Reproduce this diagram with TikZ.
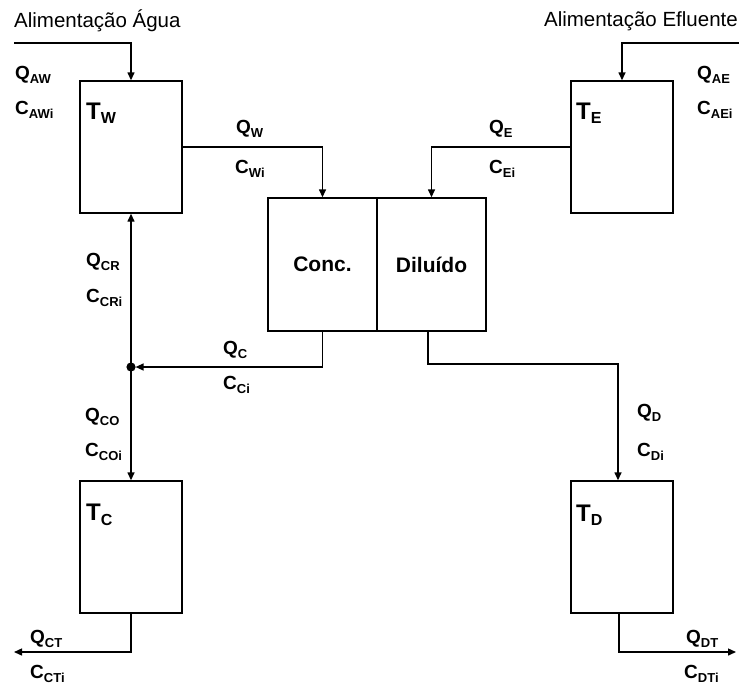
\documentclass[tikz,border=0pt]{standalone}
\usepackage{fontspec}
\setmainfont{Liberation Sans}
\usepackage{tikz}
\usetikzlibrary{arrows.meta,positioning,calc}

\newcommand{\vlab}[2]{\textbf{#1\raisebox{-0.35ex}{\fontsize{13}{14}\selectfont #2}}}
\newcommand{\tlab}[2]{\textbf{#1\raisebox{-0.35ex}{\fontsize{16}{17}\selectfont #2}}}

\begin{document}
\begin{tikzpicture}[
    x=1pt, y=-1pt,
    tank/.style={rectangle, draw, line width=1.4pt, minimum width=102pt,
                 minimum height=132pt, inner sep=0pt},
    cell/.style={rectangle, draw, line width=1.4pt, minimum width=109pt,
                 minimum height=133pt, inner sep=0pt},
    flow/.style={-{Triangle[length=8pt,width=7pt]}, line width=1.4pt},
    var/.style={anchor=west, inner sep=0pt, font=\fontsize{19}{21}\selectfont},
    tname/.style={anchor=west, inner sep=0pt, font=\fontsize{24}{26}\selectfont},
    feed/.style={inner sep=0pt, font=\fontsize{20.5}{23}\selectfont},
]
\useasboundingbox (0,0) rectangle (739,686);

% tanks
\node[tank] (tw) at (131,147) {};
\node[tank] (te) at (622,147) {};
\node[tank] (tc) at (131,547) {};
\node[tank] (td) at (622,547) {};

% electrodialysis cell
\node[cell] (conc) at (322.5,264.5) {\fontsize{21}{23}\selectfont\textbf{Conc.}};
\node[cell] (dil) at (431.5,264.5) {\fontsize{21}{23}\selectfont\textbf{Diluído}};

\node[tname] (twl) at (86,113) {\tlab{T}{W}};
\node[tname] (tel) at (576,113) {\tlab{T}{E}};
\node[tname] (tcl) at (86,515) {\tlab{T}{C}};
\node[tname] (tdl) at (576,515) {\tlab{T}{D}};

% feeds
\node[feed, anchor=west] (fwtxt) at (14,21) {Alimentação Água};
\node[feed, anchor=east] (fetxt) at (738,21) {Alimentação Efluente};
\coordinate (fw) at (14,43);
\coordinate (fe) at (739,43);
\draw[flow] (fw) -| (tw.north);
\draw[flow] (fe) -| (te.north);

% streams to the cell
\draw[flow] (tw.east) -| (conc.north);
\draw[flow] (te.west) -| (dil.north);

% concentrate loop
\coordinate (jn) at (131,367);
\draw[flow, shorten >=4.6pt] (conc.south) |- (jn);
\draw[flow] (jn) -- (tw.south);
\draw[flow] (jn) -- (tc.north);
\fill (jn) circle (4.6pt);

% diluate line
\coordinate (db) at (618,364);
\draw[flow] ([xshift=-3.5pt]dil.south) |- (db) -- (db |- td.north);

% outlets
\coordinate (co) at (14,652);
\coordinate (do) at (736,652);
\draw[flow] (tc.south) |- (co);
\draw[flow] ([xshift=-3pt]td.south) |- (do);

% stream variables
\node[var] (qaw) at (15,75) {\vlab{Q}{AW}};
\node[var] (caw) at (15,110) {\vlab{C}{AWi}};
\node[var] (qae) at (697,75) {\vlab{Q}{AE}};
\node[var] (cae) at (697,110) {\vlab{C}{AEi}};
\node[var] (qw) at (236,129) {\vlab{Q}{W}};
\node[var] (cw) at (235,169) {\vlab{C}{Wi}};
\node[var] (qe) at (489,129) {\vlab{Q}{E}};
\node[var] (ce) at (489,169) {\vlab{C}{Ei}};
\node[var] (qcr) at (86,262) {\vlab{Q}{CR}};
\node[var] (ccr) at (86,298) {\vlab{C}{CRi}};
\node[var] (qc) at (223,350) {\vlab{Q}{C}};
\node[var] (cc) at (223,385) {\vlab{C}{Ci}};
\node[var] (qco) at (85,417) {\vlab{Q}{CO}};
\node[var] (cco) at (85,452) {\vlab{C}{COi}};
\node[var] (qd) at (637,413) {\vlab{Q}{D}};
\node[var] (cd) at (637,452) {\vlab{C}{Di}};
\node[var] (qct) at (30,639) {\vlab{Q}{CT}};
\node[var] (cct) at (30,674) {\vlab{C}{CTi}};
\node[var] (qdt) at (686,639) {\vlab{Q}{DT}};
\node[var] (cdt) at (684,674) {\vlab{C}{DTi}};
\end{tikzpicture}
\end{document}
